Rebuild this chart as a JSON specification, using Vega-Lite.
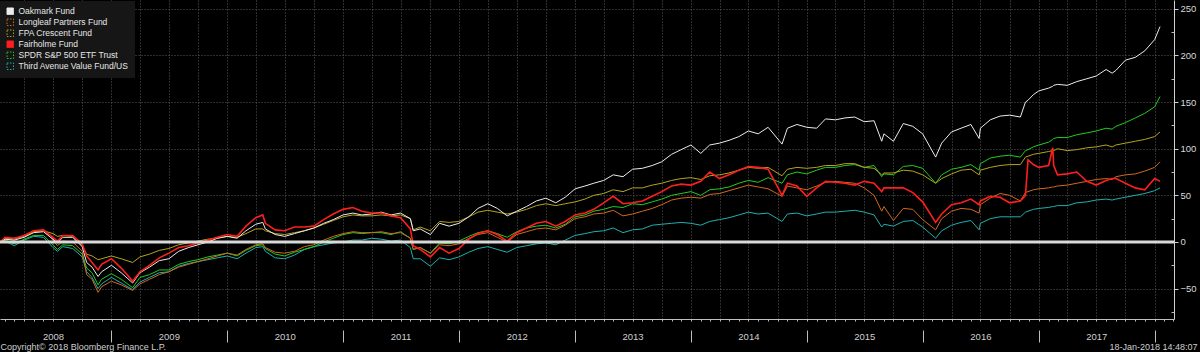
{
"$schema": "https://vega.github.io/schema/vega-lite/v6.json",
"width": 1174, "height": 319,
"autosize": "none",
"padding": {"left": 0, "top": 0, "right": 26, "bottom": 33},
"background": "#000000",
"config": {"view": {"stroke": null}, "font": "Liberation Sans"},
"datasets": {"d": [
{"t":"2008-01-16","W":0,"L":0,"F":0,"R":0,"S":0,"T":0},
{"t":"2008-02-01","W":3,"L":4,"F":3,"R":5,"S":2,"T":1},
{"t":"2008-03-01","W":2,"L":3,"F":4,"R":4,"S":-2,"T":-4},
{"t":"2008-04-01","W":5,"L":6,"F":6,"R":7,"S":3,"T":2},
{"t":"2008-05-01","W":10,"L":11,"F":11,"R":12,"S":7,"T":6},
{"t":"2008-06-01","W":11,"L":13,"F":12,"R":13,"S":7,"T":5},
{"t":"2008-07-01","W":3,"L":2,"F":9,"R":5,"S":-3,"T":-6},
{"t":"2008-07-15","W":-1,"L":-4,"F":6,"R":1,"S":-8,"T":-10},
{"t":"2008-08-01","W":5,"L":1,"F":7,"R":7,"S":-3,"T":-5},
{"t":"2008-09-01","W":5,"L":0,"F":6,"R":7,"S":-4,"T":-7},
{"t":"2008-10-01","W":-5,"L":-10,"F":-4,"R":-2,"S":-13,"T":-16},
{"t":"2008-10-15","W":-22,"L":-35,"F":-13,"R":-15,"S":-28,"T":-32},
{"t":"2008-11-01","W":-27,"L":-40,"F":-15,"R":-22,"S":-33,"T":-38},
{"t":"2008-11-20","W":-37,"L":-54,"F":-19,"R":-30,"S":-46,"T":-50},
{"t":"2008-12-01","W":-32,"L":-48,"F":-18,"R":-24,"S":-40,"T":-45},
{"t":"2009-01-01","W":-25,"L":-42,"F":-15,"R":-18,"S":-34,"T":-38},
{"t":"2009-02-01","W":-33,"L":-46,"F":-18,"R":-28,"S":-40,"T":-44},
{"t":"2009-03-09","W":-44,"L":-52,"F":-22,"R":-42,"S":-49,"T":-51},
{"t":"2009-04-01","W":-33,"L":-45,"F":-16,"R":-32,"S":-38,"T":-43},
{"t":"2009-05-01","W":-27,"L":-40,"F":-13,"R":-25,"S":-35,"T":-38},
{"t":"2009-06-01","W":-20,"L":-35,"F":-9,"R":-17,"S":-30,"T":-33},
{"t":"2009-07-01","W":-18,"L":-32,"F":-7,"R":-12,"S":-30,"T":-32},
{"t":"2009-08-01","W":-10,"L":-27,"F":-3,"R":-6,"S":-24,"T":-26},
{"t":"2009-09-01","W":-6,"L":-24,"F":-1,"R":-4,"S":-21,"T":-23},
{"t":"2009-10-01","W":-3,"L":-21,"F":1,"R":-1,"S":-19,"T":-21},
{"t":"2009-11-01","W":0,"L":-18,"F":3,"R":2,"S":-16,"T":-19},
{"t":"2009-12-01","W":4,"L":-15,"F":4,"R":5,"S":-14,"T":-17},
{"t":"2010-01-01","W":6,"L":-12,"F":6,"R":8,"S":-12,"T":-15},
{"t":"2010-02-01","W":4,"L":-14,"F":5,"R":6,"S":-15,"T":-18},
{"t":"2010-03-01","W":12,"L":-8,"F":9,"R":17,"S":-9,"T":-12},
{"t":"2010-04-01","W":19,"L":-3,"F":14,"R":26,"S":-4,"T":-6},
{"t":"2010-04-23","W":21,"L":-2,"F":14,"R":29,"S":-3,"T":-5},
{"t":"2010-05-01","W":14,"L":-6,"F":12,"R":20,"S":-7,"T":-10},
{"t":"2010-06-01","W":8,"L":-11,"F":9,"R":13,"S":-13,"T":-17},
{"t":"2010-07-01","W":6,"L":-12,"F":8,"R":12,"S":-15,"T":-18},
{"t":"2010-08-01","W":9,"L":-10,"F":10,"R":16,"S":-11,"T":-14},
{"t":"2010-09-01","W":12,"L":-5,"F":12,"R":16,"S":-8,"T":-8},
{"t":"2010-10-01","W":15,"L":-3,"F":15,"R":17,"S":-5,"T":-5},
{"t":"2010-11-01","W":20,"L":2,"F":19,"R":24,"S":0,"T":-3},
{"t":"2010-12-01","W":24,"L":6,"F":23,"R":30,"S":4,"T":-1},
{"t":"2011-01-01","W":29,"L":9,"F":27,"R":35,"S":8,"T":0},
{"t":"2011-02-01","W":31,"L":11,"F":29,"R":37,"S":10,"T":2},
{"t":"2011-03-01","W":29,"L":10,"F":28,"R":33,"S":9,"T":2},
{"t":"2011-04-01","W":30,"L":10,"F":28,"R":31,"S":10,"T":4},
{"t":"2011-05-01","W":32,"L":11,"F":29,"R":31,"S":10,"T":3},
{"t":"2011-06-01","W":29,"L":9,"F":28,"R":28,"S":8,"T":1},
{"t":"2011-07-01","W":31,"L":10,"F":29,"R":26,"S":11,"T":2},
{"t":"2011-08-01","W":25,"L":4,"F":25,"R":14,"S":4,"T":-6},
{"t":"2011-08-10","W":12,"L":-8,"F":13,"R":-4,"S":-8,"T":-18},
{"t":"2011-09-01","W":14,"L":-6,"F":16,"R":-8,"S":-6,"T":-18},
{"t":"2011-10-03","W":8,"L":-12,"F":12,"R":-16,"S":-12,"T":-26},
{"t":"2011-11-01","W":20,"L":-3,"F":22,"R":-6,"S":-1,"T":-17},
{"t":"2011-12-01","W":17,"L":-4,"F":21,"R":-12,"S":-2,"T":-19},
{"t":"2012-01-01","W":20,"L":-2,"F":22,"R":-7,"S":1,"T":-16},
{"t":"2012-02-01","W":27,"L":4,"F":27,"R":3,"S":6,"T":-11},
{"t":"2012-03-01","W":36,"L":8,"F":32,"R":9,"S":10,"T":-7},
{"t":"2012-04-01","W":41,"L":10,"F":34,"R":12,"S":12,"T":-5},
{"t":"2012-05-01","W":36,"L":5,"F":32,"R":8,"S":9,"T":-8},
{"t":"2012-06-01","W":28,"L":0,"F":30,"R":1,"S":5,"T":-11},
{"t":"2012-07-01","W":33,"L":8,"F":32,"R":10,"S":11,"T":-6},
{"t":"2012-08-01","W":38,"L":11,"F":35,"R":15,"S":15,"T":-4},
{"t":"2012-09-01","W":44,"L":14,"F":39,"R":20,"S":17,"T":-2},
{"t":"2012-10-01","W":47,"L":15,"F":41,"R":22,"S":18,"T":-1},
{"t":"2012-11-01","W":42,"L":13,"F":39,"R":17,"S":15,"T":-3},
{"t":"2012-12-01","W":48,"L":18,"F":41,"R":22,"S":19,"T":2},
{"t":"2013-01-01","W":57,"L":25,"F":43,"R":29,"S":27,"T":7},
{"t":"2013-02-01","W":60,"L":27,"F":46,"R":31,"S":29,"T":9},
{"t":"2013-03-01","W":63,"L":30,"F":50,"R":35,"S":33,"T":11},
{"t":"2013-04-01","W":66,"L":31,"F":52,"R":42,"S":35,"T":12},
{"t":"2013-05-01","W":72,"L":34,"F":56,"R":49,"S":38,"T":15},
{"t":"2013-06-01","W":70,"L":28,"F":54,"R":41,"S":37,"T":10},
{"t":"2013-07-01","W":78,"L":30,"F":58,"R":42,"S":41,"T":13},
{"t":"2013-08-01","W":79,"L":33,"F":58,"R":44,"S":40,"T":14},
{"t":"2013-09-01","W":82,"L":36,"F":61,"R":49,"S":43,"T":18},
{"t":"2013-10-01","W":86,"L":40,"F":63,"R":54,"S":46,"T":19},
{"t":"2013-11-01","W":94,"L":45,"F":66,"R":60,"S":50,"T":20},
{"t":"2013-12-01","W":99,"L":47,"F":68,"R":62,"S":52,"T":21},
{"t":"2014-01-01","W":104,"L":48,"F":69,"R":61,"S":54,"T":20},
{"t":"2014-02-01","W":95,"L":47,"F":67,"R":65,"S":50,"T":18},
{"t":"2014-03-01","W":104,"L":51,"F":71,"R":75,"S":56,"T":22},
{"t":"2014-04-01","W":106,"L":52,"F":72,"R":68,"S":57,"T":24},
{"t":"2014-05-01","W":109,"L":55,"F":74,"R":72,"S":59,"T":26},
{"t":"2014-06-01","W":113,"L":58,"F":77,"R":77,"S":63,"T":29},
{"t":"2014-07-01","W":119,"L":61,"F":80,"R":81,"S":66,"T":32},
{"t":"2014-08-01","W":116,"L":59,"F":79,"R":80,"S":64,"T":30},
{"t":"2014-09-01","W":123,"L":57,"F":80,"R":78,"S":69,"T":31},
{"t":"2014-10-15","W":105,"L":49,"F":71,"R":50,"S":63,"T":22},
{"t":"2014-11-01","W":122,"L":60,"F":78,"R":63,"S":72,"T":30},
{"t":"2014-12-01","W":126,"L":58,"F":80,"R":60,"S":75,"T":31},
{"t":"2015-01-01","W":123,"L":56,"F":79,"R":49,"S":73,"T":28},
{"t":"2015-02-01","W":122,"L":60,"F":80,"R":58,"S":77,"T":30},
{"t":"2015-03-01","W":132,"L":64,"F":82,"R":65,"S":80,"T":32},
{"t":"2015-04-01","W":131,"L":65,"F":82,"R":64,"S":80,"T":32},
{"t":"2015-05-01","W":133,"L":64,"F":84,"R":63,"S":82,"T":33},
{"t":"2015-06-01","W":134,"L":63,"F":84,"R":61,"S":83,"T":34},
{"t":"2015-07-01","W":129,"L":58,"F":80,"R":65,"S":80,"T":32},
{"t":"2015-08-01","W":130,"L":50,"F":79,"R":63,"S":82,"T":29},
{"t":"2015-08-25","W":108,"L":33,"F":72,"R":54,"S":70,"T":16},
{"t":"2015-09-01","W":116,"L":38,"F":74,"R":58,"S":73,"T":19},
{"t":"2015-10-01","W":108,"L":23,"F":74,"R":58,"S":72,"T":17},
{"t":"2015-11-01","W":127,"L":36,"F":77,"R":58,"S":81,"T":22},
{"t":"2015-12-01","W":124,"L":35,"F":76,"R":53,"S":82,"T":23},
{"t":"2016-01-01","W":116,"L":24,"F":72,"R":43,"S":79,"T":16},
{"t":"2016-02-11","W":91,"L":13,"F":63,"R":21,"S":63,"T":4},
{"t":"2016-03-01","W":106,"L":25,"F":68,"R":30,"S":72,"T":12},
{"t":"2016-04-01","W":118,"L":33,"F":73,"R":40,"S":78,"T":18},
{"t":"2016-05-01","W":122,"L":36,"F":77,"R":42,"S":80,"T":21},
{"t":"2016-06-01","W":126,"L":35,"F":78,"R":46,"S":83,"T":23},
{"t":"2016-06-27","W":111,"L":31,"F":72,"R":40,"S":77,"T":13},
{"t":"2016-07-01","W":122,"L":40,"F":77,"R":44,"S":84,"T":20},
{"t":"2016-08-01","W":131,"L":47,"F":80,"R":49,"S":90,"T":25},
{"t":"2016-09-01","W":135,"L":52,"F":82,"R":48,"S":92,"T":27},
{"t":"2016-10-01","W":136,"L":50,"F":83,"R":42,"S":93,"T":27},
{"t":"2016-11-04","W":134,"L":44,"F":83,"R":44,"S":91,"T":27},
{"t":"2016-11-20","W":150,"L":53,"F":91,"R":50,"S":98,"T":32},
{"t":"2016-11-28","W":152,"L":54,"F":92,"R":88,"S":99,"T":33},
{"t":"2016-12-15","W":158,"L":56,"F":94,"R":83,"S":102,"T":35},
{"t":"2017-01-01","W":162,"L":57,"F":95,"R":80,"S":104,"T":36},
{"t":"2017-02-01","W":165,"L":58,"F":97,"R":82,"S":107,"T":37},
{"t":"2017-02-14","W":167,"L":59,"F":98,"R":101,"S":110,"T":38},
{"t":"2017-02-17","W":168,"L":59,"F":98,"R":82,"S":111,"T":38},
{"t":"2017-03-01","W":169,"L":60,"F":100,"R":72,"S":112,"T":39},
{"t":"2017-04-01","W":168,"L":61,"F":98,"R":73,"S":112,"T":39},
{"t":"2017-05-01","W":172,"L":63,"F":99,"R":75,"S":115,"T":42},
{"t":"2017-06-01","W":175,"L":65,"F":101,"R":65,"S":117,"T":43},
{"t":"2017-07-01","W":178,"L":67,"F":102,"R":61,"S":119,"T":45},
{"t":"2017-08-01","W":185,"L":68,"F":104,"R":66,"S":122,"T":46},
{"t":"2017-08-20","W":181,"L":67,"F":102,"R":68,"S":121,"T":45},
{"t":"2017-09-01","W":184,"L":70,"F":104,"R":68,"S":124,"T":46},
{"t":"2017-10-01","W":195,"L":72,"F":106,"R":63,"S":128,"T":48},
{"t":"2017-11-01","W":198,"L":73,"F":108,"R":58,"S":133,"T":50},
{"t":"2017-12-01","W":205,"L":76,"F":110,"R":56,"S":138,"T":52},
{"t":"2018-01-01","W":217,"L":80,"F":113,"R":68,"S":145,"T":55},
{"t":"2018-01-18","W":231,"L":86,"F":118,"R":65,"S":156,"T":58}
]},
"layer": [
{
 "data": {"name": "d"},
 "transform": [{"fold": ["T","S","L","F","W","R"], "as": ["k","v"]}],
 "mark": {"type": "line", "interpolate": "linear"},
 "encoding": {
  "x": {"field": "t", "type": "temporal",
   "scale": {"domain": [{"year":2008,"month":1,"date":16},{"year":2018,"month":3,"date":3}], "nice": false},
   "axis": {"orient": "bottom", "tickCount": {"interval": "month", "step": 3}, "grid": true, "gridColor": "#5a5a5a", "gridDash": [1,2], "gridWidth": 1, "ticks": false, "labels": false, "domain": true, "domainColor": "#c0c0c0", "domainWidth": 1, "title": null}},
  "y": {"field": "v", "type": "quantitative",
   "scale": {"domain": [-82.6, 259.5], "nice": false, "zero": false},
   "axis": {"orient": "right", "values": [-50,0,50,100,150,200,250], "grid": true, "gridColor": "#5a5a5a", "gridDash": [1,2], "tickSize": 4, "tickColor": "#d0d0d0", "domainColor": "#d0d0d0", "labelColor": "#d8d8d8", "labelFont": "Liberation Sans", "labelFontSize": 9.5, "labelPadding": 2, "title": null}},
  "color": {"field": "k", "type": "nominal",
   "scale": {"domain": ["W","L","F","R","S","T"], "range": ["#ececec","#d2691e","#b4a41e","#ff1e1e","#22cc22","#1fb0b0"]},
   "legend": {"orient": "none", "legendX": 0, "legendY": 1, "title": null, "fillColor": "#161616", "padding": 6,
    "symbolType": "square", "symbolSize": 42, "symbolStrokeWidth": 1,
    "labelColor": "#e6e6e6", "labelFont": "Liberation Sans", "labelFontSize": 8.5, "labelOffset": 4, "rowPadding": 0,
    "labelExpr": "datum.label === 'W' ? 'Oakmark Fund' : datum.label === 'L' ? 'Longleaf Partners Fund' : datum.label === 'F' ? 'FPA Crescent Fund' : datum.label === 'R' ? 'Fairholme Fund' : datum.label === 'S' ? 'SPDR S&P 500 ETF Trust' : 'Third Avenue Value Fund/US'",
    "encode": {"symbols": {"update": {
      "fill": {"signal": "datum.value === 'W' || datum.value === 'R' ? scale('color', datum.value) : 'transparent'"},
      "stroke": {"signal": "scale('color', datum.value)"},
      "strokeDash": {"signal": "datum.value === 'W' || datum.value === 'R' ? [1,0] : [1.5,1.5]"},
      "opacity": {"value": 1}
    }}}}},
  "strokeWidth": {"condition": {"test": "datum.k === 'R'", "value": 1.6}, "value": 1}
 }
},
{
 "data": {"values": [{}]},
 "mark": {"type": "rule", "color": "#d9d9d9", "strokeWidth": 3},
 "encoding": {"y": {"datum": 0, "type": "quantitative", "scale": {"domain": [-82.6, 259.5], "nice": false, "zero": false}, "axis": null}}
},
{
 "data": {"values": [{"t": "2012-01-01"}]},
 "mark": {"type": "point", "opacity": 0},
 "encoding": {"x": {"field": "t", "type": "temporal",
  "scale": {"domain": [{"year":2008,"month":1,"date":16},{"year":2018,"month":3,"date":3}], "nice": false},
  "axis": {"orient": "bottom", "values": [{"year":2008,"month":7,"date":1},{"year":2009,"month":7,"date":1},{"year":2010,"month":7,"date":1},{"year":2011,"month":7,"date":1},{"year":2012,"month":7,"date":1},{"year":2013,"month":7,"date":1},{"year":2014,"month":7,"date":1},{"year":2015,"month":7,"date":1},{"year":2016,"month":7,"date":1},{"year":2017,"month":7,"date":1}],
   "format": "%Y", "ticks": false, "tickSize": 0, "domain": false, "grid": false, "labelFlush": false, "labelOverlap": false,
   "labelColor": "#cfcfcf", "labelFont": "Liberation Sans", "labelFontSize": 9.5, "labelPadding": 12, "labelBaseline": "top",
   "title": "Copyright\u00a9 2018 Bloomberg Finance L.P.", "titleX": 0, "titleY": 30, "titleAlign": "left", "titleAnchor": "start", "titleBaseline": "alphabetic",
   "titleColor": "#cfcfcf", "titleFont": "Liberation Sans", "titleFontSize": 9, "titleFontWeight": "normal"}}}
},
{
 "data": {"values": [{"t": "2012-01-01"}]},
 "mark": {"type": "point", "opacity": 0},
 "encoding": {"x": {"field": "t", "type": "temporal",
  "scale": {"domain": [{"year":2008,"month":1,"date":16},{"year":2018,"month":3,"date":3}], "nice": false},
  "axis": {"orient": "bottom", "tickCount": {"interval": "year", "step": 1}, "labels": false, "domain": false, "grid": false, "ticks": true, "tickSize": 12, "tickColor": "#bdbdbd", "offset": 11,
   "title": "18-Jan-2018 14:48:07", "titleX": 1197, "titleY": 19, "titleAlign": "right", "titleAnchor": "end", "titleBaseline": "alphabetic",
   "titleColor": "#cfcfcf", "titleFont": "Liberation Sans", "titleFontSize": 9, "titleFontWeight": "normal"}}}
},
{
 "data": {"values": [{"t": "2012-01-01", "v": 0}]},
 "mark": {"type": "point", "opacity": 0},
 "encoding": {
  "x": {"field": "t", "type": "temporal",
   "scale": {"domain": [{"year":2008,"month":1,"date":16},{"year":2018,"month":3,"date":3}], "nice": false},
   "axis": {"orient": "bottom", "tickCount": {"interval": "month", "step": 1}, "labels": false, "domain": false, "grid": false, "tickSize": 2, "tickColor": "#bdbdbd", "title": null}},
  "y": {"field": "v", "type": "quantitative",
   "scale": {"domain": [-82.6, 259.5], "nice": false, "zero": false},
   "axis": {"orient": "right", "values": [-75,-25,25,75,125,175,225], "labels": false, "domain": false, "grid": false, "tickSize": 3, "offset": -3, "tickColor": "#bdbdbd", "title": null}}
 }
}
],
"resolve": {"axis": {"x": "independent", "y": "independent"}}
}
